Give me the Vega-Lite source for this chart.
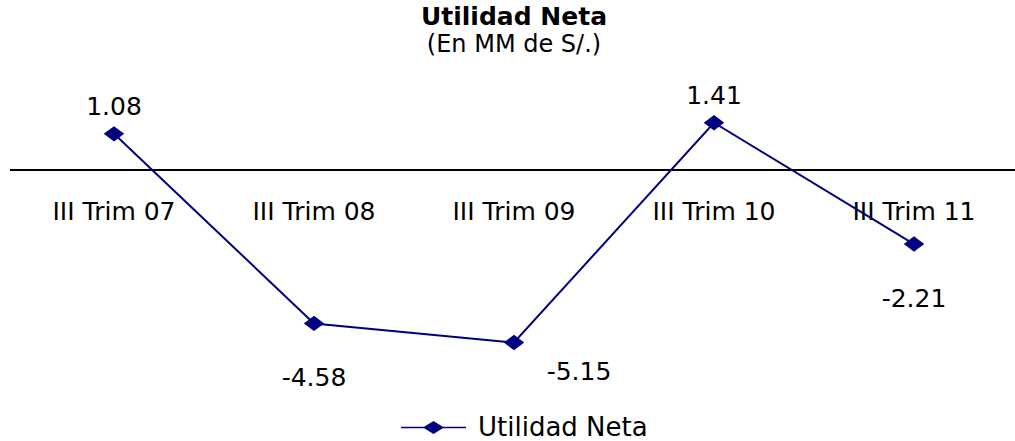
{
  "$schema": "https://vega.github.io/schema/vega-lite/v6.json",
  "width": 1000,
  "height": 268,
  "autosize": {"type": "none"},
  "padding": {"left": 14, "top": 103, "right": 1, "bottom": 70},
  "background": "white",
  "config": {
    "view": {"stroke": null},
    "font": "DejaVu Sans",
    "locale": {"number": {"decimal": ".", "thousands": ",", "grouping": [3], "currency": ["", ""], "minus": "-"}}
  },
  "title": {
    "text": "Utilidad Neta",
    "subtitle": "(En MM de S/.)",
    "fontSize": 25,
    "fontWeight": "bold",
    "subtitleFontSize": 24,
    "subtitleColor": "black",
    "color": "black",
    "subtitlePadding": 3,
    "offset": 27,
    "anchor": "middle",
    "font": "DejaVu Sans",
    "subtitleFont": "DejaVu Sans"
  },
  "data": {
    "values": [
      {"periodo": "III Trim 07", "valor": 1.08, "serie": "Utilidad Neta"},
      {"periodo": "III Trim 08", "valor": -4.58, "serie": "Utilidad Neta"},
      {"periodo": "III Trim 09", "valor": -5.15, "serie": "Utilidad Neta"},
      {"periodo": "III Trim 10", "valor": 1.41, "serie": "Utilidad Neta"},
      {"periodo": "III Trim 11", "valor": -2.21, "serie": "Utilidad Neta"}
    ]
  },
  "encoding": {
    "x": {"field": "periodo", "type": "ordinal", "sort": null, "axis": null, "scale": {"type": "point", "padding": 0.5}},
    "y": {"field": "valor", "type": "quantitative", "axis": null, "scale": {"domain": [-6, 2], "nice": false, "zero": false}}
  },
  "layer": [
    {
      "mark": {"type": "rule", "color": "black", "strokeWidth": 1.5},
      "encoding": {"y": {"datum": 0}, "x": {"value": -4}, "x2": {"value": 1001}}
    },
    {
      "mark": {"type": "text", "fontSize": 25, "color": "black", "dy": 42, "font": "DejaVu Sans"},
      "encoding": {"y": {"datum": 0}, "text": {"field": "periodo"}}
    },
    {
      "mark": {"type": "line", "strokeWidth": 2},
      "encoding": {
        "color": {
          "field": "serie",
          "type": "nominal",
          "scale": {"range": ["#000080"]},
          "legend": {
            "orient": "none",
            "legendX": 386,
            "legendY": 291,
            "title": null,
            "symbolType": "M-1,0H1M0,-0.17L0.28,0L0,0.17L-0.28,0Z",
            "symbolSize": 4225,
            "symbolStrokeWidth": 1.5,
            "symbolFillColor": "#000080",
            "symbolStrokeColor": "#000080",
            "labelFontSize": 26,
            "labelColor": "black",
            "labelFont": "DejaVu Sans",
            "labelOffset": 11,
            "labelLimit": 400
          }
        }
      }
    },
    {
      "mark": {"type": "point", "filled": true, "shape": "M-1,0L0,-0.75L1,0L0,0.75Z", "size": 420, "color": "#000080", "opacity": 1}
    },
    {
      "transform": [{"filter": "datum.valor > 0"}],
      "mark": {"type": "text", "fontSize": 25, "color": "black", "dy": -27},
      "encoding": {"text": {"field": "valor", "format": ".2f"}}
    },
    {
      "transform": [{"filter": "datum.valor < 0 && datum.periodo != 'III Trim 09'"}],
      "mark": {"type": "text", "fontSize": 25, "color": "black", "dy": 55},
      "encoding": {"text": {"field": "valor", "format": ".2f"}}
    },
    {
      "transform": [{"filter": "datum.periodo == 'III Trim 09'"}],
      "mark": {"type": "text", "fontSize": 25, "color": "black", "dy": 29, "dx": 65},
      "encoding": {"text": {"field": "valor", "format": ".2f"}}
    }
  ]
}
